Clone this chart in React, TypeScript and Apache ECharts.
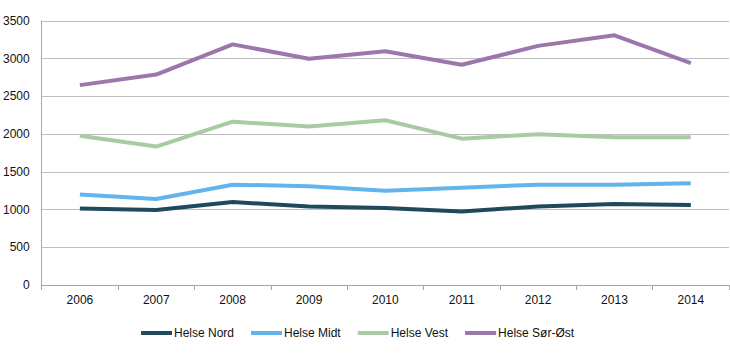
import React, { useEffect, useRef } from "react";
import * as echarts from "echarts";

const years = ["2006", "2007", "2008", "2009", "2010", "2011", "2012", "2013", "2014"];
const helseNord = [1015, 995, 1100, 1040, 1020, 975, 1040, 1075, 1060];
const helseMidt = [1200, 1140, 1330, 1310, 1250, 1290, 1330, 1330, 1350];
const helseVest = [1980, 1835, 2165, 2100, 2185, 1940, 2000, 1960, 1960];
const helseSorOst = [2650, 2790, 3190, 3000, 3100, 2920, 3170, 3310, 2940];

const names = ["Helse Nord", "Helse Midt", "Helse Vest", "Helse Sør-Øst"];
const colors = ["#1f4a5e", "#62b5ec", "#a9caa5", "#9b78ac"];
const seriesData = [helseNord, helseMidt, helseVest, helseSorOst];

export default function App() {
  const ref = useRef<HTMLDivElement>(null);
  useEffect(() => {
    if (!ref.current) return;
    const chart = echarts.init(ref.current, null, { renderer: "svg" });
    const font = "'Liberation Sans', Arial, sans-serif";
    chart.setOption({
      animation: false,
      textStyle: { fontFamily: font },
      grid: { left: 40, right: 1, top: 21, bottom: 72, containLabel: false },
      legend: {
        bottom: 13,
        left: 136,
        itemWidth: 31,
        itemHeight: 4,
        itemGap: 17,
        icon: "rect",
        textStyle: { fontSize: 12, color: "#111", fontFamily: font, padding: [0, 0, 0, -3] },
        data: names,
      },
      xAxis: {
        type: "category",
        data: years,
        boundaryGap: true,
        axisLine: { lineStyle: { color: "#a6a6a6", width: 1 } },
        axisTick: { show: true, length: 5, lineStyle: { color: "#a6a6a6" } },
        axisLabel: { fontSize: 12, color: "#111", margin: 9, fontFamily: font },
        splitLine: { show: false },
      },
      yAxis: {
        type: "value",
        min: 0,
        max: 3500,
        interval: 500,
        axisLine: { show: true, lineStyle: { color: "#a6a6a6", width: 1 } },
        axisTick: { show: false },
        axisLabel: { fontSize: 12, color: "#111", margin: 12, fontFamily: font, formatter: (v: number) => String(v) },
        splitLine: { show: true, lineStyle: { color: "#bfbfbf", width: 1 } },
      },
      series: seriesData.map((d, i) => ({
        name: names[i],
        type: "line",
        data: d,
        symbol: "none",
        showSymbol: false,
        lineStyle: { color: colors[i], width: 4 },
        itemStyle: { color: colors[i] },
      })),
    });
    return () => chart.dispose();
  }, []);
  return <div ref={ref} style={{ width: 730, height: 357, position: "absolute", left: 0, top: 0 }} />;
}
